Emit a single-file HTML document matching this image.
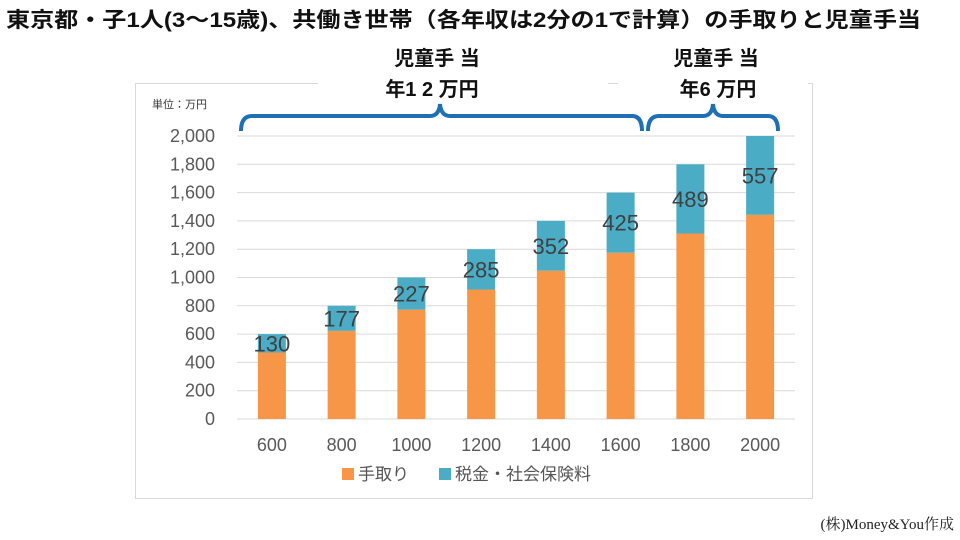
<!DOCTYPE html>
<html><head><meta charset="utf-8"><style>
body{margin:0;width:960px;height:540px;background:#fff;overflow:hidden;font-family:"Liberation Sans","Noto Sans CJK JP",sans-serif;}
svg{position:absolute;left:0;top:0}
</style></head><body>
<svg width="960" height="540" id="c">
<text x="6" y="27" font-size="21" font-weight="bold" fill="#111" textLength="915" lengthAdjust="spacingAndGlyphs">東京都・子1人(3〜15歳)、共働き世帯（各年収は2分の1で計算）の手取りと児童手当</text>
<rect x="135.5" y="83.5" width="677" height="415" fill="none" stroke="#d9d9d9"/>
<rect x="318" y="70" width="290" height="30" fill="#fff"/>
<rect x="618" y="70" width="190" height="30" fill="#fff"/>
<text x="437" y="65" text-anchor="middle" font-size="20" font-weight="bold" fill="#111">児童手 当</text>
<text x="432" y="96" text-anchor="middle" font-size="20" font-weight="bold" fill="#111">年1 2 万円</text>
<text x="716" y="65" text-anchor="middle" font-size="20" font-weight="bold" fill="#111">児童手 当</text>
<text x="718" y="96" text-anchor="middle" font-size="20" font-weight="bold" fill="#111">年6 万円</text>
<path d="M241 131 Q241 116 252 116 L430 116 Q439 116 440 104 Q441 116 450 116 L632 116 Q642 116 642 131" fill="none" stroke="#1f6fb5" stroke-width="4"/>
<path d="M648 131 Q648 116 659 116 L703 116 Q712 116 713 104 Q714 116 723 116 L768 116 Q778 116 778 131" fill="none" stroke="#1f6fb5" stroke-width="4"/>
<text x="152" y="108" font-size="11" fill="#333">単位：万円</text>
<g id="grid"></g><g id="bars"></g>
<rect x="342" y="468" width="12" height="12" fill="#f79646"/>
<text x="358" y="480" font-size="17" fill="#555">手取り</text>
<rect x="439" y="468" width="12" height="12" fill="#4bacc6"/>
<text x="455" y="480" font-size="17" fill="#555">税金・社会保険料</text>
<text x="954" y="529" text-anchor="end" font-size="15" fill="#222" font-family="Liberation Serif,Noto Serif CJK SC,serif">(株)Money&amp;You作成</text>
</svg>
<script>
const categories=["600","800","1000","1200","1400","1600","1800","2000"];
const takehome=[470,623,773,915,1048,1175,1311,1443];
const tax=[130,177,227,285,352,425,489,557];
const yTicks=[0,200,400,600,800,1000,1200,1400,1600,1800,2000];
const NS="http://www.w3.org/2000/svg";
const y0=419,yTop=136,yMax=2000,x0=237,x1=795;
function ys(v){return y0-(v/yMax)*(y0-yTop);}
function xs(i){const s=(x1-x0)/categories.length;return x0+s*(i+0.5);}
function mk(t,a,p){const e=document.createElementNS(NS,t);for(const k in a)e.setAttribute(k,a[k]);p.appendChild(e);return e;}
const g=document.getElementById('grid'),b=document.getElementById('bars');
yTicks.forEach(v=>{
 const l=mk('line',{x1:x0,x2:x1,y1:ys(v),y2:ys(v),stroke:'#d9d9d9','stroke-width':1},g);
 
 
 const t=mk('text',{x:215,y:ys(v)+6,'text-anchor':'end','font-size':18,fill:'#595959'},g);
 t.textContent=v.toLocaleString('en-US');
 
 
});
categories.forEach((c,i)=>{
 const cx=xs(i),w=28;
 const r1=mk('rect',{x:cx-w/2,y:ys(takehome[i]),width:w,height:y0-ys(takehome[i]),fill:'#f79646'},b);
 
 
 const tot=takehome[i]+tax[i];
 const r2=mk('rect',{x:cx-w/2,y:ys(tot),width:w,height:ys(takehome[i])-ys(tot),fill:'#4bacc6'},b);
 
 
 const lb=mk('text',{x:cx,y:ys(takehome[i]+tax[i]/2)+8,'text-anchor':'middle','font-size':22,fill:'#404040'},b);
 lb.textContent=tax[i];
 
 
 const xl=mk('text',{x:cx,y:451,'text-anchor':'middle','font-size':18,fill:'#595959'},b);
 xl.textContent=c;
 
 
});
</script>
</body></html>
